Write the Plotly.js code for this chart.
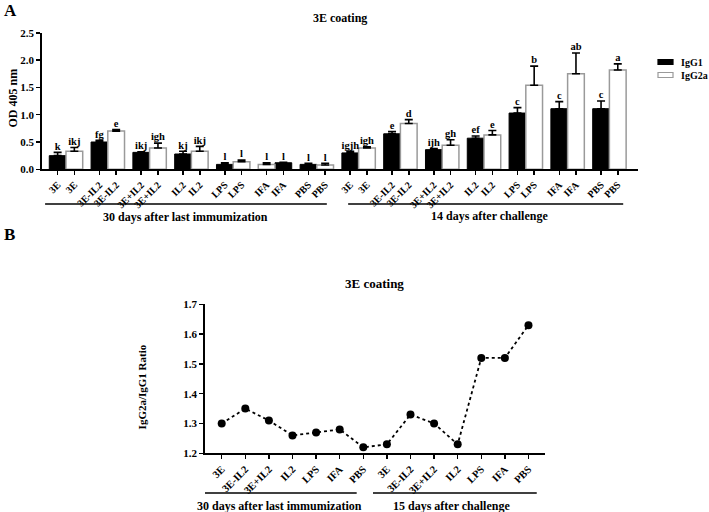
<!DOCTYPE html>
<html>
<head>
<meta charset="utf-8">
<script src="https://cdn.plot.ly/plotly-3.0.1.min.js"></script>
<style>
  html, body { margin: 0; padding: 0; background: #fff; }
  #chart { width: 709px; height: 512px; }
</style>
</head>
<body>
<div id="chart"></div>
<script>
// panel A: OD 405 nm, 30 days after last immunization then 14 days after challenge
var groups_a = ['3E', '3E-IL2', '3E+IL2', 'IL2', 'LPS', 'IFA', 'PBS',
                '3E', '3E-IL2', '3E+IL2', 'IL2', 'LPS', 'IFA', 'PBS'];
var igg1 = [0.25, 0.50, 0.31, 0.28, 0.09, 0.12, 0.09, 0.30, 0.65, 0.36, 0.57, 1.03, 1.11, 1.11];
var igg1_err = [0.06, 0.03, 0.01, 0.05, 0.03, 0.01, 0.02, 0.03, 0.04, 0.02, 0.04, 0.10, 0.13, 0.14];
var igg1_letters = ['k', 'fg', 'ikj', 'kj', 'l', 'l', 'l', 'igjh', 'e', 'ijh', 'ef', 'c', 'c', 'c'];
var igg2a = [0.33, 0.70, 0.39, 0.33, 0.14, 0.09, 0.08, 0.39, 0.84, 0.44, 0.63, 1.54, 1.75, 1.82];
var igg2a_err = [0.07, 0.03, 0.09, 0.09, 0.03, 0.03, 0.03, 0.02, 0.07, 0.10, 0.08, 0.35, 0.38, 0.11];
var igg2a_letters = ['ikj', 'e', 'igh', 'ikj', 'l', 'l', 'l', 'igh', 'd', 'gh', 'e', 'b', 'ab', 'a'];
var igg2a_first = [false, false, false, false, false, true, false,
                   false, false, false, false, false, false, false];
var periods_a = ['30 days after last immumization', '14 days after challenge'];
var series_names = ['IgG1', 'IgG2a'];

// panel B: IgG2a/IgG1 ratio
var groups_b = ['3E', '3E-IL2', '3E+IL2', 'IL2', 'LPS', 'IFA', 'PBS',
                '3E', '3E-IL2', '3E+IL2', 'IL2', 'LPS', 'IFA', 'PBS'];
var ratio = [1.30, 1.35, 1.31, 1.26, 1.27, 1.28, 1.22, 1.23, 1.33, 1.30, 1.23, 1.52, 1.52, 1.63];
var periods_b = ['30 days after last immumization', '15 days after challenge'];

var serif = 'Liberation Serif, Times New Roman, serif';
var bw = 0.4;
function fnt(size) { return {family: serif, size: size, color: 'black', weight: 'bold'}; }

var pos_a = groups_a.map(function (g, i) { return i; });
var off1 = igg2a_first.map(function (f) { return f ? 0 : -bw; });
var off2 = igg2a_first.map(function (f) { return f ? -bw : 0; });
var zeros = pos_a.map(function () { return 0; });

var tickvals_a = [], ticktext_a = [];
for (var i = 0; i < groups_a.length; i++) {
    tickvals_a.push(i - bw / 2, i + bw / 2);
    ticktext_a.push(groups_a[i], groups_a[i]);
}

var trace1 = {
    type: 'bar', name: series_names[0], x: pos_a, y: igg1,
    offset: off1, width: bw, showlegend: false,
    marker: {color: 'black', line: {color: 'black', width: 1}},
    error_y: {type: 'data', array: igg1_err, arrayminus: zeros, symmetric: false,
              color: 'black', thickness: 1.6, width: 4},
    xaxis: 'x', yaxis: 'y', hoverinfo: 'skip'
};
var trace2 = {
    type: 'bar', name: series_names[1], x: pos_a, y: igg2a,
    offset: off2, width: bw, showlegend: false,
    marker: {color: 'white', line: {color: '#9a9a9a', width: 1.5}},
    error_y: {type: 'data', array: igg2a_err, arrayminus: zeros, symmetric: false,
              color: 'black', thickness: 1.6, width: 4},
    xaxis: 'x', yaxis: 'y', hoverinfo: 'skip'
};
var letters1 = {
    type: 'scatter', mode: 'text', showlegend: false, hoverinfo: 'skip', cliponaxis: false,
    x: pos_a.map(function (p, i) { return p + off1[i] + bw / 2; }),
    y: igg1.map(function (v, i) { return v + igg1_err[i]; }),
    text: igg1_letters, textposition: 'top center', textfont: fnt(10.5),
    xaxis: 'x', yaxis: 'y'
};
var letters2 = {
    type: 'scatter', mode: 'text', showlegend: false, hoverinfo: 'skip', cliponaxis: false,
    x: pos_a.map(function (p, i) { return p + off2[i] + bw / 2; }),
    y: igg2a.map(function (v, i) { return v + igg2a_err[i]; }),
    text: igg2a_letters, textposition: 'top center', textfont: fnt(10.5),
    xaxis: 'x', yaxis: 'y'
};

var pos_b = groups_b.map(function (g, i) { return i; });
var trace_ratio = {
    type: 'scatter', mode: 'lines+markers', x: pos_b, y: ratio, showlegend: false,
    line: {color: 'black', width: 1.8, dash: 'dot'},
    marker: {color: 'black', size: 8},
    cliponaxis: false, xaxis: 'x2', yaxis: 'y2', hoverinfo: 'skip'
};

var axis_common = {
    showgrid: false, zeroline: false, showline: true, linecolor: 'black', linewidth: 1.8,
    ticks: 'outside', ticklen: 4, tickwidth: 1.5, tickcolor: 'black', fixedrange: true
};

function line_shape(xref, x0, x1, y) {
    return {type: 'line', xref: xref, yref: 'paper', x0: x0, x1: x1, y0: y, y1: y,
            line: {color: 'black', width: 1.6}};
}
function note(text, xref, x, y, size, extra) {
    var a = {text: text, xref: xref, yref: 'paper', x: x, y: y, showarrow: false,
             font: fnt(size), xanchor: 'center', yanchor: 'middle'};
    for (var k in extra) a[k] = extra[k];
    return a;
}
// legend key: flat swatch plus label
function key_box(y_px, fill, edge) {
    return {type: 'rect', xref: 'paper', yref: 'paper',
            x0: 658 / 709, x1: 673 / 709, y0: 1 - (y_px - 2.5) / 512, y1: 1 - (y_px + 2.5) / 512,
            fillcolor: fill, line: {color: edge, width: 1.2}};
}

var layout = {
    width: 709, height: 512, autosize: false,
    margin: {l: 0, r: 0, t: 0, b: 0},
    paper_bgcolor: 'white', plot_bgcolor: 'white',
    barmode: 'overlay',
    showlegend: false,
    xaxis: Object.assign({}, axis_common, {
        domain: [42 / 709, 638 / 709], range: [-0.574, 13.684],
        tickmode: 'array', tickvals: tickvals_a, ticktext: ticktext_a,
        tickangle: -45, tickfont: fnt(10), anchor: 'y'
    }),
    yaxis: Object.assign({}, axis_common, {
        domain: [1 - 169.3 / 512, 1 - 32.8 / 512], range: [0, 2.5],
        dtick: 0.5, tickformat: '.1f', tickfont: fnt(11), anchor: 'x'
    }),
    xaxis2: Object.assign({}, axis_common, {
        domain: [205 / 709, 545 / 709], range: [-0.708, 13.7],
        tickmode: 'array', tickvals: pos_b, ticktext: groups_b,
        tickangle: -45, tickfont: fnt(10.5), anchor: 'y2'
    }),
    yaxis2: Object.assign({}, axis_common, {
        domain: [1 - 453.3 / 512, 1 - 304.3 / 512], range: [1.2, 1.7],
        dtick: 0.1, tickformat: '.1f', tickfont: fnt(11), anchor: 'x2'
    }),
    shapes: [
        line_shape('x', -0.5, 6.24, 1 - 204 / 512),
        line_shape('x', 6.75, 13.33, 1 - 204 / 512),
        line_shape('x2', -0.89, 5.72, 1 - 493 / 512),
        line_shape('x2', 6.41, 13.35, 1 - 493 / 512),
        key_box(62, 'black', 'black'),
        key_box(75, 'white', '#9a9a9a')
    ],
    annotations: [
        note('A', 'paper', 10 / 709, 1 - 10 / 512, 17),
        note('B', 'paper', 9 / 709, 1 - 234 / 512, 17),
        note('3E coating', 'paper', 340 / 709, 1 - 18 / 512, 12),
        note('3E coating', 'paper', 375 / 709, 1 - 283 / 512, 13),
        note('OD 405 nm', 'paper', 12 / 709, 1 - 98.5 / 512, 12, {textangle: -90}),
        note('IgG2a/IgG1 Ratio', 'paper', 141.7 / 709, 1 - 386.7 / 512, 11, {textangle: -90}),
        note(periods_a[0], 'x', (-0.5 + 6.24) / 2, 1 - 217 / 512, 12),
        note(periods_a[1], 'x', (6.75 + 13.33) / 2 + 0.1, 1 - 216 / 512, 12),
        note(periods_b[0], 'x2', 2.45, 1 - 505.7 / 512, 12),
        note(periods_b[1], 'x2', 9.75, 1 - 505.7 / 512, 12),
        note(series_names[0], 'paper', 679 / 709, 1 - 62 / 512, 10, {xanchor: 'left'}),
        note(series_names[1], 'paper', 679 / 709, 1 - 75 / 512, 10, {xanchor: 'left'})
    ]
};

Plotly.newPlot('chart', [trace1, trace2, letters1, letters2, trace_ratio], layout,
               {displayModeBar: false, staticPlot: true});
</script>
</body>
</html>
